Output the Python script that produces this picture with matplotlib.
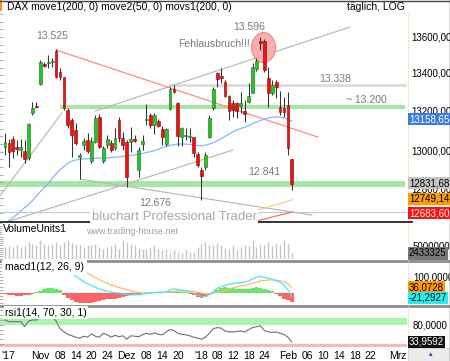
import matplotlib
matplotlib.use("Agg")
import matplotlib.pyplot as plt
from matplotlib.patches import Ellipse, Rectangle
from matplotlib.lines import Line2D
import numpy as np

plt.rcParams['font.family'] = ['Liberation Sans', 'DejaVu Sans']

# ---------------- data (daily DAX, index 0 = first candle) ----------------
opens = [13023, 13047, 13068, 13023, 13009, 13006, 12966, 13201, 13239, 13354,
         13459, 13466, 13467, 13527, 13415, 13389, 13218, 13166, 13114, 12974,
         13035, 13061, 12950, 13053, 13180, 12953, 13035, 13044, 13018, 13166,
         13070, 13053, 13053, 13066, 12904, 13041, 13166, 13192, 13140, 13161,
         13117, 13041, 13222, 13326, 13253, 13075, 13082, 13079, 13075, 12988,
         12904, 12922, 13079, 13227, 13410, 13395, 13367, 13292, 13253, 13257,
         13239, 13215, 13262, 13309, 13431, 13581, 13581, 13384, 13309, 13367,
         13232, 13227, 13245, 12960]
highs = [13100, 13065, 13080, 13061, 13065, 13061, 13150, 13262, 13262, 13480,
         13470, 13506, 13488, 13535, 13436, 13392, 13227, 13175, 13148, 12991,
         13070, 13096, 13075, 13190, 13195, 13030, 13085, 13060, 13122, 13183,
         13105, 13061, 13128, 13087, 13027, 13087, 13250, 13201, 13201, 13171,
         13135, 13122, 13340, 13349, 13262, 13131, 13122, 13122, 13079, 13000,
         12922, 13000, 13192, 13340, 13419, 13436, 13375, 13297, 13271, 13262,
         13314, 13271, 13358, 13462, 13490, 13602, 13588, 13445, 13375, 13375,
         13319, 13288, 13314, 12960]
lows = [12983, 12922, 12965, 12983, 12974, 12939, 12956, 13192, 13227, 13349,
        13445, 13436, 13445, 13384, 13375, 13218, 13122, 12974, 13035, 12856,
        13009, 12991, 12940, 13045, 13020, 12940, 13020, 13000, 13009, 13053,
        13009, 12817, 12999, 13053, 12870, 13009, 13140, 13122, 13093, 13128,
        13035, 13030, 13218, 13305, 13030, 13030, 13061, 13053, 12974, 12922,
        12748, 12905, 13070, 13218, 13340, 13358, 13285, 13166, 13183, 13175,
        13201, 13157, 13253, 13309, 13420, 13532, 13419, 13236, 13297, 13279,
        13192, 13183, 12983, 12800]
closes = [13053, 13000, 13004, 13013, 13023, 12964, 13145, 13227, 13236, 13471,
          13450, 13470, 13476, 13389, 13393, 13227, 13140, 13088, 13044, 12983,
          13056, 13004, 13058, 13175, 13027, 13018, 13068, 13009, 13070, 13070,
          13035, 12870, 13066, 13058, 13009, 13058, 13173, 13140, 13192, 13136,
          13079, 13117, 13326, 13312, 13082, 13122, 13084, 13080, 12992, 12931,
          12873, 12983, 13178, 13326, 13380, 13388, 13292, 13215, 13218, 13215,
          13257, 13197, 13292, 13445, 13476, 13567, 13428, 13306, 13349, 13340,
          13210, 13210, 13018, 12831.68]

# move2 (blue moving average)
ma_blue = [12625, 12640, 12655, 12672, 12690, 12708, 12725, 12745, 12768, 12792,
           12812, 12835, 12860, 12885, 12905, 12922, 12940, 12950, 12957, 12960,
           12962, 12964, 12965, 12966, 12967, 12967, 12968, 12970, 12972, 12974,
           12976, 12978, 12981, 12984, 12987, 12991, 12996, 13000, 13006, 13013,
           13021, 13028, 13033, 13037, 13040, 13041, 13040, 13038, 13036, 13033,
           13031, 13034, 13040, 13048, 13058, 13068, 13080, 13092, 13104, 13114,
           13122, 13128, 13136, 13146, 13156, 13164, 13170, 13176, 13180, 13182,
           13181, 13177, 13170, 13158.65]
# move1 (orange) and movs1 (red): last candles
ma_orange = [12634, 12640, 12646, 12652, 12658, 12664, 12670, 12676, 12682, 12688,
             12694, 12700, 12705, 12711, 12717, 12723, 12729, 12735, 12742, 12749.14]
ma_red = [12601, 12606, 12611, 12616, 12622, 12627, 12632, 12637, 12643, 12648,
          12653, 12659, 12664, 12669, 12674, 12679, 12683.60]

volume_m = [5.3, 5.6, 5.3, 6.1, 5.3, 6.1, 7.6, 6.8, 6.1, 8.3,
            6.8, 6.1, 6.5, 7.6, 6.1, 7.6, 8.3, 7.1, 6.8, 6.1,
            5.3, 6.1, 6.1, 6.5, 5.3, 4.5, 5.3, 5.6, 6.8, 4.5,
            8.3, 7.6, 6.8, 6.1, 5.0, 4.1, 4.5, 5.3, 6.1, 4.5,
            3.8, 4.5, 3.0, 3.8, 3.0, 2.6, 4.5, 3.0, 2.6, 5.3,
            6.8, 7.6, 6.1, 6.1, 7.1, 6.1, 5.0, 4.5, 6.1, 3.8,
            5.3, 6.1, 5.6, 8.3, 5.3, 6.1, 6.1, 7.6, 5.6, 6.8,
            6.1, 8.3, 6.8, 2.433325]

macd_line = [205, 200, 195, 190, 186, 183, 190, 205, 220, 240,
             255, 265, 270, 262, 248, 225, 145, 122, 105, 88,
             72, 58, 46, 35, 25, 17, 10, 5, 2, 0,
             -3, -10, -12, -12, -10, -8, -3, 0, 3, 5,
             4, 8, 20, 26, 22, 18, 14, 8, -2, -12,
             -22, -22, -10, 10, 28, 40, 48, 55, 60, 62,
             65, 68, 75, 88, 100, 103, 98, 92, 85, 78,
             68, 50, 20, -21.2927]
macd_signal = [230, 225, 220, 215, 210, 205, 200, 198, 200, 205,
               212, 218, 222, 225, 225, 220, 200, 185, 170, 156,
               140, 125, 110, 96, 84, 72, 61, 51, 42, 34,
               27, 20, 14, 8, 4, 2, 1, 1, 2, 3,
               3, 4, 7, 10, 12, 13, 13, 12, 10, 5,
               0, -4, -5, -2, 4, 11, 18, 25, 32, 38,
               43, 48, 53, 60, 67, 74, 78, 81, 82, 80,
               77, 70, 58, 36.0728]
macd_hist = [-8, -12, -15, -17, -16, -14, -10, -5, 5, 15,
             25, 30, 32, 28, 18, -10, -30, -45, -55, -60,
             -62, -62, -60, -57, -50, -45, -40, -37, -35, -32,
             -28, -20, -12, -8, -5, -3, 2, 4, 6, 8,
             6, 8, 12, 14, 12, 8, 5, -5, -15, -25,
             -30, -28, -15, 5, 20, 30, 35, 33, 30, 28,
             25, 22, 25, 30, 35, 32, 28, 20, 12, -5,
             -20, -35, -45, -57]
rsi = [80, 76, 77, 76, 77, 66, 78, 80, 80, 86,
       85, 86, 86, 78, 62, 55, 50, 47, 44, 42,
       46, 44, 51, 46, 44, 52, 49, 44, 48, 45,
       47, 40, 47, 46, 45, 49, 52, 50, 53, 50,
       49, 55, 60, 58, 52, 50, 49, 47, 44, 42,
       40, 44, 52, 62, 64, 63, 57, 55, 55, 56,
       57, 55, 60, 64, 66, 68, 58, 55, 54, 55,
       52, 50, 44, 33.9592]

tick_labels = ["'17", "Nov", "08", "14", "20", "24", "Dez", "08", "14", "20", "'18",
               "08", "12", "18", "24", "Feb", "06", "10", "14", "18", "22", "Mrz"]
tick_index = [0.9, 9, 14, 18, 22, 26, 31, 36, 40, 44, 50,
              54, 58, 62, 66, 72, 77, 81, 85, 89, 93, 100]

# annotation lines (index, price)
steep_line = [(-1.3, 12769), (14.5, 13203)]
channel_low = [(0.5, 12633), (58.0, 13009)]
channel_high = [(22.9, 13213), (87.8, 13652)]
support_desc = [(19.1, 12857), (78.1, 12669)]
resist_red = [(13.0, 13532), (79.6, 13077)]
level_13338 = 13350
zone_13200 = (13222, 13245)
zone_12841 = (12815, 12848)

# ---------------- figure ----------------
W, H = 450, 361
fig = plt.figure(figsize=(W / 100, H / 100), dpi=100)
fig.patch.set_facecolor('white')


def axes_px(left, top, right, bottom):
    a = fig.add_axes([left / W, 1 - bottom / H, (right - left) / W, (bottom - top) / H])
    for s in a.spines.values():
        s.set_visible(False)
    a.set_xticks([])
    a.set_yticks([])
    a.set_facecolor('none')
    return a


def ftext(px, py, s, **kw):
    return fig.text(px / W, 1 - py / H, s, **kw)


def fline(x0, y0, x1, y1, **kw):
    fig.add_artist(Line2D([x0 / W, x1 / W], [1 - y0 / H, 1 - y1 / H], transform=fig.transFigure, **kw))


XL = (-1.27, 102.3)
ax = axes_px(0, 13, 407, 222)
axv = axes_px(0, 222, 407, 258.5)
axm = axes_px(0, 262, 407, 304)
axr = axes_px(0, 307, 407, 348)
for a in (ax, axv, axm, axr):
    a.set_xlim(*XL)

ax.set_ylim(12632.7, 13725.5)
axv.set_ylim(0, 16.6)
axm.set_ylim(-69, 194)
axr.set_ylim(21.4, 107.2)

n = len(closes)
idx = np.arange(n)
o = np.array(opens, float); h = np.array(highs, float)
l = np.array(lows, float); c = np.array(closes, float)

# zones and lines
ax.fill_between([14, 101.8], zone_13200[0], zone_13200[1], color='#a6e6a6', lw=0, zorder=1)
ax.fill_between([-1.3, 101.8], zone_12841[0], zone_12841[1], color='#a6e6a6', lw=0, zorder=1)
ax.plot([42, 101.8], [level_13338, level_13338], color='#dcdcdc', lw=2, zorder=1)
ax.axhline(ma_red[-1], color='#c8c8c8', lw=0.8, zorder=1)
for seg in (steep_line, channel_low, channel_high, support_desc):
    ax.plot([seg[0][0], seg[1][0]], [seg[0][1], seg[1][1]], color='#b4b4b4', lw=0.8, zorder=2)
ax.plot([resist_red[0][0], resist_red[1][0]], [resist_red[0][1], resist_red[1][1]],
        color='#ff8c8c', lw=0.9, zorder=2)

ax.plot(idx, ma_blue, color='#8ab4ff', lw=0.9, zorder=2)
ax.plot(idx[n - len(ma_orange):], ma_orange, color='#ffc880', lw=0.9, zorder=2)
ax.plot(idx[n - len(ma_red):], ma_red, color='#ff7070', lw=0.9, zorder=2)

# highlight ellipse
ax.add_patch(Ellipse((65.8, 13545), 6.1, 157, fc='#f7a6a6', ec='#f08080', lw=0.8, alpha=0.9, zorder=2))

# candles
up = c >= o
ax.vlines(idx, l, h, color='#333333', lw=0.75, zorder=3)
bb = np.minimum(o, c)
bh = np.maximum(np.abs(c - o), 4)
ax.bar(idx[up], bh[up], bottom=bb[up], width=0.72, color='#22c822', edgecolor='#1a6a1a', lw=0.4, zorder=4)
ax.bar(idx[~up], bh[~up], bottom=bb[~up], width=0.72, color='#ee1111', edgecolor='#8a0000', lw=0.4, zorder=4)

# annotation text
gray = '#7a7a7a'
ftext(52, 36, '13.525', fontsize=7.5, color=gray, ha='center', va='center')
ftext(249, 27, '13.596', fontsize=7.5, color=gray, ha='center', va='center')
ftext(214, 44, 'Fehlausbruch!!!', fontsize=7.5, color=gray, ha='center', va='center')
ftext(335, 79, '13.338', fontsize=7.5, color=gray, ha='center', va='center')
ftext(366, 100, '~ 13.200', fontsize=7.5, color=gray, ha='center', va='center')
ftext(264, 172, '12.841', fontsize=7.5, color=gray, ha='center', va='center')
ftext(155, 203, '12.676', fontsize=7.5, color=gray, ha='center', va='center')

# volume
axv.vlines(idx, 0, volume_m, color='#c4c4c4', lw=1.0)

# macd
hist = np.array(macd_hist, float)
axm.bar(idx[hist >= 0], hist[hist >= 0], width=1.0, color='#66e866', lw=0)
axm.bar(idx[hist < 0], hist[hist < 0], width=1.0, color='#ff6464', lw=0)
axm.plot(idx, macd_signal, color='#ffbb70', lw=0.9)
axm.plot(idx, macd_line, color='#44e8f4', lw=0.9)

# rsi
axr.axhspan(70, 85, color='#aaf5aa', lw=0)
axr.axhspan(23, 30, color='#ffb4b4', lw=0)
axr.plot(idx, rsi, color='#707070', lw=0.8)

# x ticks
axr.set_xticks(tick_index)
axr.set_xticklabels(tick_labels, fontsize=7.5)
axr.tick_params(axis='x', length=0, pad=2)

# left minor dotted ticks
for a, step in ((ax, 40), (axm, 20), (axr, 10), (axv, 1)):
    lo, hi = a.get_ylim()
    ys = np.arange(np.ceil(lo / step) * step, hi, step)
    a.plot(np.full(len(ys), XL[0] + 0.35), ys, ls='none', marker='_', ms=2.5, color='#a0a0a0', mew=0.6)

# panel labels
ftext(3, 229, 'VolumeUnits1', fontsize=7.5, color='black', ha='left', va='center',
      bbox=dict(boxstyle='square,pad=0.1', fc='white', ec='none'))
ftext(5, 267.5, 'macd1(12, 26, 9)', fontsize=7.5, color='black', ha='left', va='center',
      bbox=dict(boxstyle='square,pad=0.25', fc='white', ec='none'))
ftext(5, 312.5, 'rsi1(14, 70, 30, 1)', fontsize=7.5, color='black', ha='left', va='center',
      bbox=dict(boxstyle='square,pad=0.1', fc='white', ec='none'))

# title bar
ftext(7, 7, 'DAX move1(200, 0) move2(50, 0) movs1(200, 0)', fontsize=7.5, ha='left', va='center')
ftext(405, 7, 'täglich, LOG', fontsize=7.5, ha='right', va='center')
fig.add_artist(Rectangle((0, 1 - 11 / H), 2 / W, 11 / H, transform=fig.transFigure, fc='#f39c12', ec='none'))
fline(0, 0.5, 450, 0.5, color='#444444', lw=1.0)
fline(449.5, 0, 449.5, 361, color='#444444', lw=1.0)

# panel borders
fline(0, 222, 412, 222, color='#333333', lw=1.4, zorder=5)
fline(0, 260.5, 450, 260.5, color='#8c8c8c', lw=2.0)
fline(0, 305.5, 450, 305.5, color='#8c8c8c', lw=2.0)
fline(407.5, 13, 407.5, 347, color='#e8d890', lw=0.8, ls=(0, (1, 1)))

# watermark (white background covers lines)
ftext(174, 217, 'bluchart Professional Trader', fontsize=9.5, color='#a8a8a8', ha='center', va='center',
      bbox=dict(boxstyle='square,pad=0.15', fc='white', ec='none'), zorder=6)
ftext(132, 231, 'www.trading-house.net', fontsize=6.5, color='#a0a0a0', ha='center', va='center', zorder=6)

# right axis labels
for p, py in ((13600, 37), (13400, 74), (13200, 112), (13000, 151), (12800, 190)):
    ftext(411, py, f'{p},00', fontsize=7, ha='left', va='center')


def box(py, s, fc, tc='black'):
    ftext(409, py, s, fontsize=7, ha='left', va='center', color=tc,
          bbox=dict(boxstyle='square,pad=0.12', fc=fc, ec='none'))


box(119, f'{ma_blue[-1]:.2f}'.replace('.', ','), '#3c7be0', 'white')
box(183, f'{closes[-1]:.2f}'.replace('.', ','), '#c4c4c4')
box(199, f'{ma_orange[-1]:.2f}'.replace('.', ','), '#ff9a00')
box(213, f'{ma_red[-1]:.2f}'.replace('.', ','), '#ff1010', 'white')

ftext(413, 247, '5000000', fontsize=7, ha='left', va='center')
box(253.5, f'{volume_m[-1] * 1e6:.0f}', '#787878')
ftext(413, 277, '100,0000', fontsize=7, ha='left', va='center')
box(287, f'{macd_signal[-1]:.4f}'.replace('.', ','), '#ff9a00')
box(298, f'{macd_line[-1]:.4f}'.replace('.', ','), '#22f0f0')
ftext(413, 325, '80,0000', fontsize=7, ha='left', va='center')
box(342, f'{rsi[-1]:.4f}'.replace('.', ','), '#101010', 'white')

# bottom-right corner box
fig.add_artist(Rectangle((408 / W, 0), 42 / W, 13 / H, transform=fig.transFigure, fc='#ececec', ec='#c8c8c8', lw=0.5))
ftext(431, 355, '\u25b4', fontsize=5, color='#1f3f9f', ha='center', va='center')

fig.savefig('out.png', dpi=100)
